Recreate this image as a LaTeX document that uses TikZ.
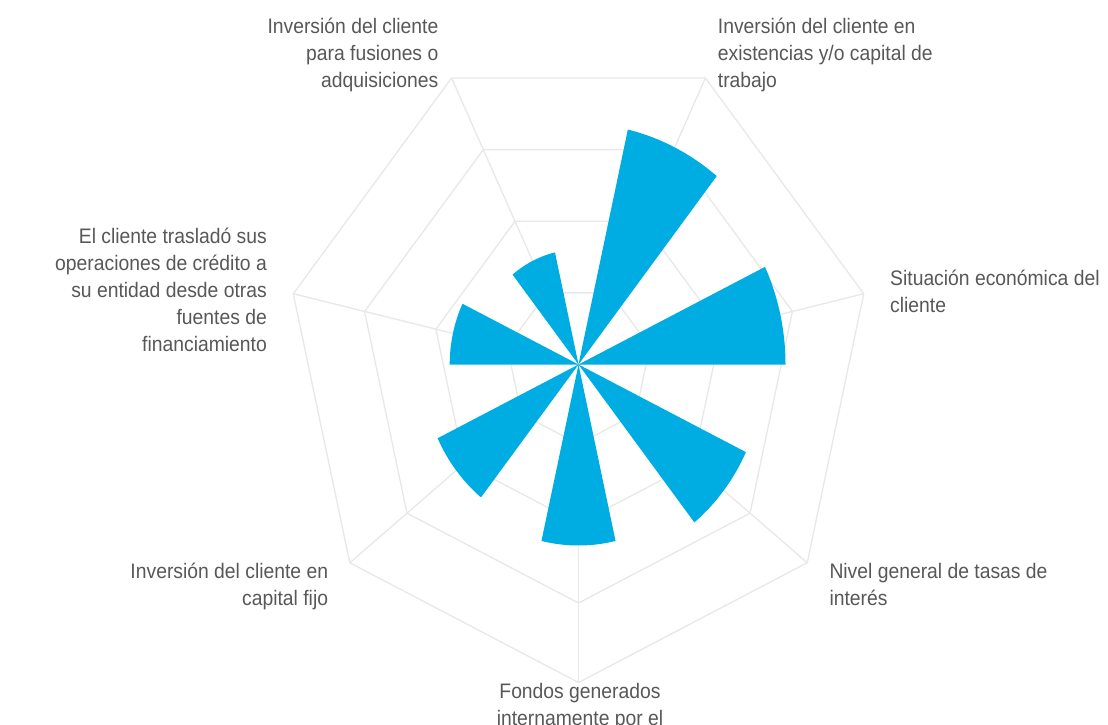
\documentclass[tikz,border=0pt]{standalone}
\usepackage{fontspec}
\setmainfont{Liberation Sans}[FakeStretch=0.92]
\definecolor{wedgeblue}{RGB}{0,173,226}
\definecolor{gridgray}{RGB}{232,232,232}
\definecolor{labelgray}{RGB}{88,88,88}
\begin{document}
\begin{tikzpicture}[x=1pt,y=-1pt,
  grid/.style={draw=gridgray,line width=1.3pt,line join=round},
  wedge/.style={fill=wedgeblue},
  lbl/.style={font=\fontsize{21}{27}\selectfont, text=labelgray, inner sep=0pt}]
\useasboundingbox (0,0) rectangle (1108,725);
\fill[white] (0,0) rectangle (1108,725);
\begin{scope}[shift={(578.5,364.5)}, xscale=0.92, yscale=-1]
  \coordinate (C) at (0,0);
  \foreach \r in {79.5,159,238.5,318}
    \draw[grid] (-90:\r) -- (-38.571:\r) -- (12.857:\r) -- (64.286:\r) -- (115.714:\r) -- (167.143:\r) -- (218.571:\r) -- cycle;
  \foreach \k in {0,...,6} {
    \coordinate (v\k) at ({-90+\k*51.4286}:318);
    \draw[grid] (C) -- (v\k);
  }
  \foreach \a/\r in {-90/181, -38.571/202, 12.857/225, 64.286/241, 115.714/115, 167.143/140, 218.571/170}
    \fill[wedge] (C) -- ({\a-12.857}:\r) arc[start angle={\a-12.857}, end angle={\a+12.857}, radius=\r] -- cycle;
\end{scope}
\node[lbl, anchor=north east, align=right] (l4) at (438.5,11.3) {\rule{0pt}{22pt}Inversión del cliente\\para fusiones o\\adquisiciones};
\node[lbl, anchor=north west, align=left] (l3) at (717.7,11.3) {\rule{0pt}{22pt}Inversión del cliente en\\existencias y/o capital de\\trabajo};
\node[lbl, anchor=north west, align=left] (l2) at (890,263) {\rule{0pt}{22pt}Situación económica del\\cliente};
\node[lbl, anchor=north east, align=right] (l5) at (267,221.3) {\rule{0pt}{22pt}El cliente trasladó sus\\operaciones de crédito a\\su entidad desde otras\\fuentes de\\financiamiento};
\node[lbl, anchor=north east, align=right] (l6) at (328.3,556.3) {\rule{0pt}{22pt}Inversión del cliente en\\capital fijo};
\node[lbl, anchor=north west, align=left] (l1) at (829.3,556.3) {\rule{0pt}{22pt}Nivel general de tasas de\\interés};
\node[lbl, anchor=north, align=center] (l0) at (580,676.3) {\rule{0pt}{22pt}Fondos generados\\internamente por el};
\end{tikzpicture}
\end{document}
